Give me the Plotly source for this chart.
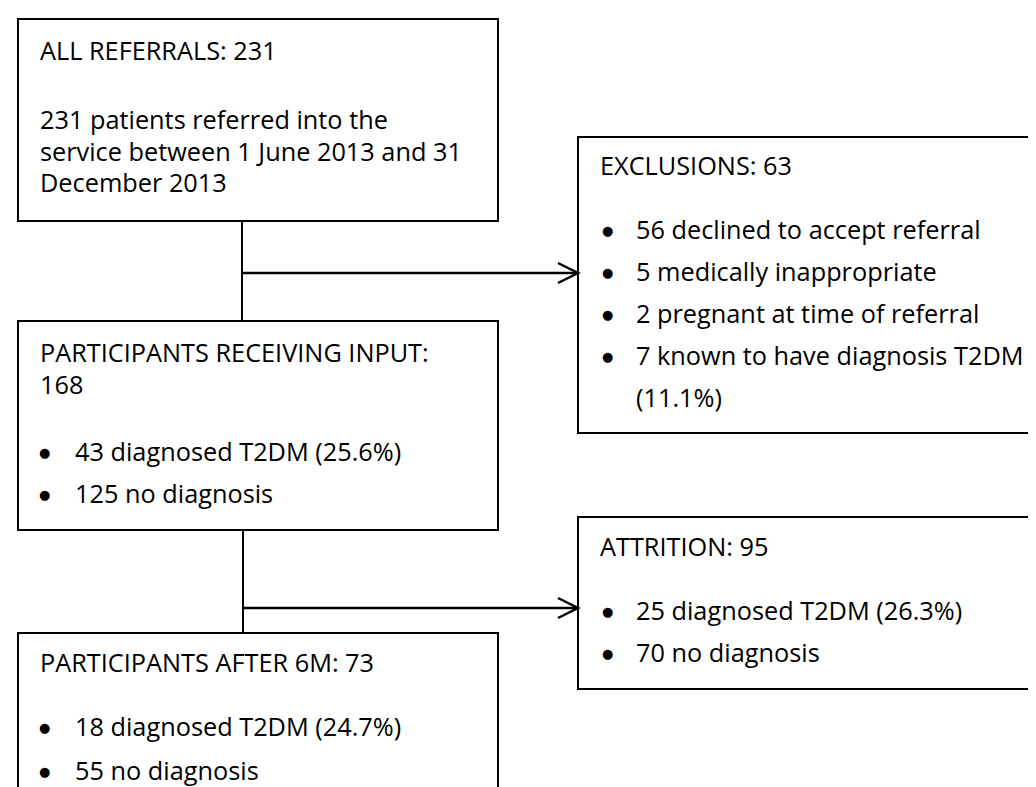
import plotly.graph_objects as go

# ---- data (counts from the flow diagram) ----
referrals_total = 231
exclusions_total = 63
exclusion_counts = [56, 5, 2, 7]
exclusion_labels = ["declined to accept referral", "medically inappropriate",
                    "pregnant at time of referral", "known to have diagnosis T2DM"]
exclusion_pct_t2dm = "11.1%"
participants_total = 168
participant_counts = [43, 125]
participant_pct = "25.6%"
attrition_total = 95
attrition_counts = [25, 70]
attrition_pct = "26.3%"
after6m_total = 73
after6m_counts = [18, 55]
after6m_pct = "24.7%"

FONT = dict(family="'Open Sans', sans-serif", size=25.3, color="#000000")
BULLET_FONT = dict(family="'DejaVu Sans', sans-serif", size=13, color="#000000")
W, H = 1036, 787

fig = go.Figure()
shapes = []
annotations = []


def box(x0, y0, x1, y1):
    shapes.append(dict(type="rect", x0=x0, y0=y0, x1=x1, y1=y1, xref="x", yref="y",
                       line=dict(color="#000000", width=2), fillcolor="rgba(0,0,0,0)"))


def line(x0, y0, x1, y1, w=2):
    shapes.append(dict(type="line", x0=x0, y0=y0, x1=x1, y1=y1, xref="x", yref="y",
                       line=dict(color="#000000", width=w)))


def arrow(x0, x1, y):
    line(x0, y, x1, y, 2.5)
    shapes.append(dict(type="path", path=f"M {x1-20},{y-10} L {x1},{y} L {x1-20},{y+10}",
                       xref="x", yref="y", line=dict(color="#000000", width=2.5)))


def text(x, y, s, font=FONT, anchor="left"):
    annotations.append(dict(x=x, y=y, xref="x", yref="y", text=s, showarrow=False,
                            xanchor=anchor, yanchor="middle", font=font, borderpad=0))


def bullet(cx, tx, y, s):
    text(cx, y + 1, "●", BULLET_FONT, "center")
    text(tx - 1, y, s)


# boxes
box(10, 11, 490, 213)      # all referrals
box(570, 129, 1045, 425)   # exclusions
box(10, 313, 490, 522)     # participants receiving input
box(570, 509, 1045, 681)   # attrition
box(10, 625, 490, 800)     # after 6M

# connectors
line(234, 213, 234, 313)
arrow(234, 570, 265)
line(235, 522, 235, 625)
arrow(235, 570, 600)

# box 1
text(31, 42, f"ALL REFERRALS: {referrals_total}")
text(31, 111, f"{referrals_total} patients referred into the")
text(31, 143, "service between 1 June 2013 and 31")
text(31, 174, "December 2013")

# exclusions
text(591, 157, f"EXCLUSIONS: {exclusions_total}")
ex_y = [221, 263, 305, 347]
for c, lab, y in zip(exclusion_counts, exclusion_labels, ex_y):
    bullet(599, 628, y, f"{c} {lab}")
text(627, 389, f"({exclusion_pct_t2dm})")

# participants
text(31, 344, "PARTICIPANTS RECEIVING INPUT:")
text(31, 376, f"{participants_total}")
bullet(36, 67, 443, f"{participant_counts[0]} diagnosed T2DM ({participant_pct})")
bullet(36, 67, 485, f"{participant_counts[1]} no diagnosis")

# attrition
text(591, 538, f"ATTRITION: {attrition_total}")
bullet(599, 628, 602, f"{attrition_counts[0]} diagnosed T2DM ({attrition_pct})")
bullet(599, 628, 644, f"{attrition_counts[1]} no diagnosis")

# after 6M
text(31, 654, f"PARTICIPANTS AFTER 6M: {after6m_total}")
bullet(36, 67, 718, f"{after6m_counts[0]} diagnosed T2DM ({after6m_pct})")
bullet(36, 67, 762, f"{after6m_counts[1]} no diagnosis")

fig.update_layout(
    width=W, height=H,
    margin=dict(l=0, r=0, t=0, b=0),
    paper_bgcolor="white", plot_bgcolor="white",
    xaxis=dict(range=[0, W], visible=False, fixedrange=True),
    yaxis=dict(range=[H, 0], visible=False, fixedrange=True),
    shapes=shapes, annotations=annotations, showlegend=False,
)
fig.write_html("out.html")
